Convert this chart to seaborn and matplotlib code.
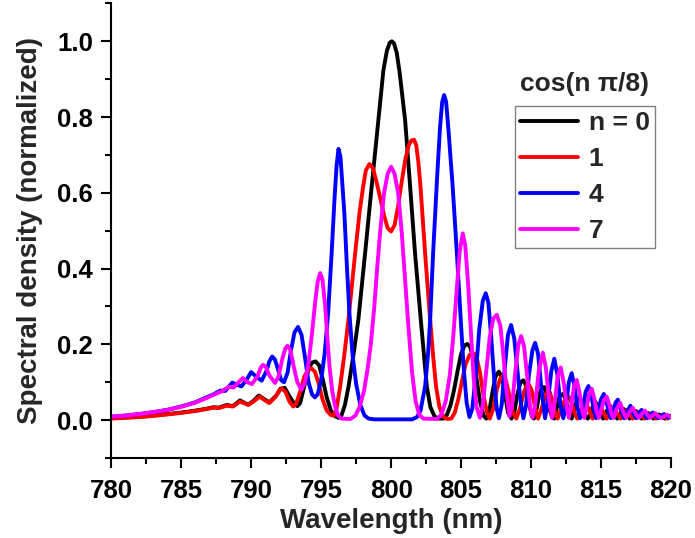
import matplotlib
matplotlib.use("Agg")
import matplotlib.pyplot as plt
from matplotlib.ticker import MultipleLocator, FormatStrFormatter
import seaborn as sns
import pandas as pd

# ---- data: (wavelength nm, normalized density) ----
labels = ["n = 0", "1", "4", "7"]
colors = ["#000000", "#ff0000", "#0000ff", "#ff00ff"]

black_points = [
    (780.0, 0.005), (781.0, 0.007), (782.0, 0.009), (783.0, 0.012), (784.0, 0.016),
    (785.0, 0.020), (786.0, 0.025), (786.8, 0.030), (787.3, 0.034), (787.7, 0.033),
    (788.25, 0.040), (788.7, 0.037), (789.2, 0.052), (789.55, 0.045), (789.8, 0.041),
    (790.2, 0.052), (790.55, 0.065), (790.95, 0.055), (791.3, 0.047), (791.8, 0.065),
    (792.1, 0.083), (792.4, 0.085), (792.75, 0.062), (793.1, 0.042), (793.3, 0.037),
    (793.5, 0.045), (793.8, 0.090), (794.1, 0.135), (794.35, 0.152), (794.6, 0.155),
    (794.85, 0.145), (795.1, 0.110), (795.4, 0.060), (795.7, 0.025), (796.0, 0.010),
    (796.25, 0.006), (796.45, 0.012), (796.7, 0.040), (796.96, 0.089), (797.3, 0.170),
    (797.66, 0.265), (798.14, 0.440), (798.61, 0.616), (799.09, 0.792), (799.45, 0.924),
    (799.7, 0.975), (799.9, 0.996), (800.05, 1.000), (800.2, 0.995), (800.4, 0.970),
    (800.6, 0.920), (801.0, 0.792), (801.36, 0.616), (801.71, 0.440), (802.12, 0.265),
    (802.55, 0.089), (802.8, 0.035), (803.1, 0.010), (803.4, 0.004), (803.75, 0.004),
    (804.0, 0.015), (804.25, 0.040), (804.5, 0.080), (804.75, 0.130), (805.0, 0.175),
    (805.25, 0.197), (805.45, 0.201), (805.65, 0.193), (805.85, 0.165), (806.1, 0.110),
    (806.35, 0.050), (806.6, 0.012), (806.8, 0.004), (807.0, 0.020), (807.2, 0.065),
    (807.45, 0.115), (807.7, 0.128), (807.95, 0.110), (808.15, 0.065), (808.35, 0.020),
    (808.6, 0.004), (808.8, 0.020), (809.0, 0.065), (809.25, 0.100), (809.45, 0.105),
    (809.65, 0.090), (809.85, 0.045), (810.05, 0.010), (810.2, 0.004), (810.4, 0.030),
    (810.6, 0.070), (810.8, 0.086), (810.95, 0.087), (811.15, 0.065), (811.35, 0.025),
    (811.5, 0.008), (811.65, 0.004), (811.85, 0.035), (812.05, 0.065), (812.3, 0.069),
    (812.5, 0.050), (812.7, 0.015), (812.9, 0.004), (813.1, 0.030), (813.3, 0.055),
    (813.5, 0.059), (813.7, 0.040), (813.9, 0.012), (814.05, 0.004), (814.2, 0.012),
    (814.4, 0.035), (814.6, 0.048), (814.8, 0.035), (815.0, 0.012), (815.15, 0.004),
    (815.4, 0.024), (815.65, 0.038), (815.9, 0.022), (816.15, 0.004), (816.4, 0.019),
    (816.6, 0.030), (816.85, 0.017), (817.05, 0.004), (817.3, 0.016), (817.5, 0.024),
    (817.7, 0.014), (817.9, 0.004), (818.15, 0.014), (818.35, 0.019), (818.55, 0.012),
    (818.75, 0.004), (818.95, 0.011), (819.15, 0.015), (819.35, 0.010), (819.55, 0.004),
    (819.8, 0.010), (820.0, 0.012),
]

red_points = [
    (780.0, 0.004), (781.0, 0.006), (782.0, 0.008), (783.0, 0.011), (784.0, 0.015),
    (785.0, 0.019), (786.0, 0.024), (786.8, 0.029), (787.3, 0.033), (787.7, 0.032),
    (788.25, 0.038), (788.7, 0.036), (789.2, 0.049), (789.8, 0.040), (790.2, 0.050),
    (790.6, 0.062), (790.95, 0.053), (791.3, 0.045), (791.75, 0.062), (792.0, 0.078),
    (792.2, 0.083), (792.45, 0.075), (792.75, 0.048), (793.0, 0.036), (793.2, 0.042),
    (793.5, 0.075), (793.8, 0.115), (794.05, 0.132), (794.3, 0.137), (794.55, 0.128),
    (794.8, 0.100), (795.1, 0.055), (795.4, 0.025), (795.7, 0.013), (795.9, 0.012),
    (796.1, 0.030), (796.36, 0.089), (796.65, 0.170), (796.95, 0.265), (797.43, 0.440),
    (797.75, 0.550), (798.0, 0.616), (798.2, 0.660), (798.45, 0.676), (798.7, 0.665),
    (798.95, 0.630), (799.2, 0.590), (799.5, 0.540), (799.75, 0.507), (800.0, 0.498),
    (800.25, 0.515), (800.5, 0.565), (800.76, 0.630), (801.0, 0.685), (801.25, 0.725),
    (801.45, 0.738), (801.64, 0.740), (801.8, 0.725), (801.95, 0.680), (802.1, 0.616),
    (802.43, 0.440), (802.79, 0.265), (803.0, 0.170), (803.21, 0.089), (803.45, 0.035),
    (803.7, 0.010), (804.0, 0.003), (804.3, 0.004), (804.55, 0.020), (804.8, 0.055),
    (805.05, 0.100), (805.3, 0.145), (805.6, 0.172), (805.88, 0.177), (806.1, 0.168),
    (806.35, 0.125), (806.6, 0.065), (806.85, 0.020), (807.05, 0.004), (807.3, 0.030),
    (807.55, 0.080), (807.8, 0.110), (808.0, 0.117), (808.2, 0.105), (808.45, 0.065),
    (808.7, 0.020), (808.95, 0.004), (809.2, 0.030), (809.5, 0.075), (809.7, 0.092),
    (809.85, 0.094), (810.05, 0.078), (810.3, 0.030), (810.5, 0.004), (810.75, 0.030),
    (811.0, 0.062), (811.2, 0.076), (811.35, 0.073), (811.55, 0.045), (811.75, 0.015),
    (811.9, 0.004), (812.2, 0.035), (812.5, 0.060), (812.7, 0.062), (812.95, 0.040),
    (813.15, 0.015), (813.3, 0.004), (813.6, 0.030), (813.85, 0.051), (814.15, 0.028),
    (814.4, 0.004), (814.65, 0.025), (814.9, 0.042), (815.15, 0.022), (815.4, 0.004),
    (815.65, 0.020), (815.9, 0.034), (816.15, 0.018), (816.4, 0.004), (816.65, 0.018),
    (816.85, 0.027), (817.05, 0.016), (817.25, 0.004), (817.5, 0.014), (817.7, 0.021),
    (817.9, 0.012), (818.1, 0.004), (818.35, 0.011), (818.55, 0.017), (818.75, 0.010),
    (818.95, 0.004), (819.15, 0.009), (819.35, 0.013), (819.55, 0.008), (819.75, 0.004),
    (820.0, 0.009),
]

blue_points = [
    (780.0, 0.009), (781.0, 0.012), (782.0, 0.016), (783.0, 0.021), (784.0, 0.027),
    (785.0, 0.036), (786.0, 0.047), (786.8, 0.060), (787.3, 0.068), (787.8, 0.078),
    (788.15, 0.077), (788.4, 0.088), (788.65, 0.099), (788.95, 0.094), (789.3, 0.089),
    (789.65, 0.105), (790.0, 0.127), (790.35, 0.115), (790.75, 0.104), (791.1, 0.130),
    (791.3, 0.155), (791.5, 0.168), (791.7, 0.160), (791.95, 0.130), (792.15, 0.105),
    (792.35, 0.100), (792.6, 0.125), (792.85, 0.185), (793.1, 0.232), (793.35, 0.246),
    (793.6, 0.225), (793.85, 0.165), (794.1, 0.100), (794.35, 0.068), (794.55, 0.060),
    (794.75, 0.068), (795.0, 0.105), (795.25, 0.175), (795.5, 0.282), (795.75, 0.440),
    (795.95, 0.580), (796.1, 0.670), (796.24, 0.716), (796.38, 0.695), (796.5, 0.630),
    (796.66, 0.546), (796.85, 0.400), (797.02, 0.282), (797.25, 0.170), (797.5, 0.096),
    (797.8, 0.040), (798.1, 0.012), (798.4, 0.004), (798.8, 0.002), (801.5, 0.002),
    (801.85, 0.008), (802.1, 0.025), (802.43, 0.089), (802.65, 0.180), (802.79, 0.265),
    (803.0, 0.440), (803.3, 0.650), (803.5, 0.775), (803.65, 0.840), (803.79, 0.858),
    (803.93, 0.840), (804.1, 0.765), (804.4, 0.616), (804.7, 0.440), (805.0, 0.250),
    (805.2, 0.130), (805.4, 0.045), (805.6, 0.008), (805.8, 0.030), (806.05, 0.120),
    (806.3, 0.240), (806.55, 0.315), (806.76, 0.335), (806.95, 0.310), (807.15, 0.220),
    (807.4, 0.090), (807.55, 0.030), (807.7, 0.005), (807.9, 0.040), (808.1, 0.130),
    (808.35, 0.225), (808.57, 0.251), (808.8, 0.215), (809.0, 0.140), (809.25, 0.050),
    (809.45, 0.005), (809.65, 0.040), (809.85, 0.120), (810.1, 0.185), (810.29, 0.204),
    (810.5, 0.175), (810.75, 0.080), (811.0, 0.005), (811.2, 0.050), (811.45, 0.130),
    (811.66, 0.162), (811.88, 0.120), (812.1, 0.040), (812.3, 0.005), (812.5, 0.040),
    (812.7, 0.100), (812.9, 0.124), (813.1, 0.090), (813.3, 0.035), (813.5, 0.005),
    (813.7, 0.030), (813.9, 0.075), (814.1, 0.090), (814.3, 0.065), (814.5, 0.025),
    (814.65, 0.005), (814.85, 0.030), (815.0, 0.055), (815.2, 0.069), (815.4, 0.048),
    (815.55, 0.020), (815.7, 0.005), (815.9, 0.028), (816.05, 0.047), (816.2, 0.054),
    (816.4, 0.030), (816.65, 0.005), (816.9, 0.025), (817.1, 0.038), (817.3, 0.018),
    (817.5, 0.005), (817.7, 0.018), (817.9, 0.027), (818.1, 0.014), (818.3, 0.005),
    (818.5, 0.014), (818.7, 0.020), (818.9, 0.011), (819.1, 0.005), (819.3, 0.011),
    (819.5, 0.016), (819.75, 0.007), (820.0, 0.008),
]

pink_points = [
    (780.0, 0.009), (781.0, 0.012), (782.0, 0.016), (783.0, 0.021), (784.0, 0.027),
    (785.0, 0.035), (786.0, 0.046), (786.8, 0.058), (787.4, 0.068), (787.9, 0.076),
    (788.4, 0.088), (788.75, 0.086), (789.1, 0.100), (789.4, 0.111), (789.75, 0.100),
    (790.05, 0.095), (790.45, 0.115), (790.7, 0.140), (790.85, 0.146), (791.05, 0.140),
    (791.3, 0.118), (791.7, 0.098), (791.95, 0.115), (792.25, 0.165), (792.45, 0.190),
    (792.6, 0.196), (792.8, 0.185), (793.05, 0.140), (793.3, 0.100), (793.6, 0.080),
    (793.85, 0.100), (794.1, 0.150), (794.35, 0.230), (794.57, 0.310), (794.75, 0.365),
    (794.93, 0.388), (795.1, 0.370), (795.29, 0.300), (795.45, 0.215), (795.6, 0.141),
    (795.8, 0.075), (796.0, 0.036), (796.2, 0.013), (796.45, 0.004), (797.1, 0.003),
    (797.45, 0.012), (797.75, 0.035), (798.05, 0.075), (798.3, 0.130), (798.55, 0.200),
    (798.8, 0.300), (799.0, 0.400), (799.25, 0.510), (799.5, 0.600), (799.75, 0.650),
    (800.0, 0.669), (800.25, 0.650), (800.5, 0.600), (800.75, 0.500), (801.0, 0.370),
    (801.25, 0.240), (801.5, 0.125), (801.75, 0.050), (802.0, 0.015), (802.3, 0.004),
    (803.3, 0.003), (803.6, 0.015), (803.9, 0.050), (804.2, 0.120), (804.45, 0.225),
    (804.7, 0.350), (804.9, 0.445), (805.12, 0.493), (805.3, 0.460), (805.5, 0.360),
    (805.7, 0.235), (805.9, 0.110), (806.1, 0.035), (806.35, 0.006), (806.55, 0.040),
    (806.8, 0.130), (807.05, 0.220), (807.3, 0.268), (807.55, 0.278), (807.8, 0.250),
    (808.0, 0.180), (808.25, 0.075), (808.45, 0.010), (808.65, 0.040), (808.85, 0.120),
    (809.1, 0.200), (809.29, 0.222), (809.5, 0.195), (809.75, 0.105), (809.95, 0.030),
    (810.1, 0.006), (810.3, 0.040), (810.55, 0.130), (810.84, 0.178), (811.05, 0.140),
    (811.3, 0.050), (811.5, 0.006), (811.7, 0.050), (811.9, 0.115), (812.12, 0.139),
    (812.35, 0.095), (812.55, 0.035), (812.7, 0.006), (812.9, 0.045), (813.07, 0.090),
    (813.26, 0.106), (813.45, 0.075), (813.65, 0.025), (813.8, 0.006), (814.0, 0.040),
    (814.15, 0.070), (814.33, 0.083), (814.5, 0.060), (814.7, 0.020), (814.85, 0.006),
    (815.05, 0.032), (815.2, 0.052), (815.4, 0.062), (815.6, 0.040), (815.75, 0.015),
    (815.9, 0.006), (816.1, 0.028), (816.36, 0.046), (816.6, 0.020), (816.8, 0.006),
    (817.0, 0.020), (817.26, 0.033), (817.5, 0.015), (817.7, 0.006), (817.9, 0.016),
    (818.14, 0.025), (818.35, 0.012), (818.5, 0.006), (818.7, 0.013), (818.9, 0.018),
    (819.1, 0.009), (819.3, 0.006), (819.5, 0.010), (819.7, 0.014), (820.0, 0.008),
]

series_points = [black_points, red_points, blue_points, pink_points]

frames = []
for lab, pts in zip(labels, series_points):
    frames.append(pd.DataFrame({"wavelength": [p[0] for p in pts],
                                "density": [p[1] for p in pts],
                                "series": lab}))
df = pd.concat(frames, ignore_index=True)

# ---- style ----
sns.set_style("ticks")
plt.rcParams["font.family"] = ["Liberation Sans", "DejaVu Sans"]
plt.rcParams["font.weight"] = "bold"
plt.rcParams["axes.labelweight"] = "bold"

fig = plt.figure(figsize=(6.95, 5.38), dpi=100)
ax = fig.add_axes([0.160, 0.1487, 0.8055, 0.845])

sns.lineplot(data=df, x="wavelength", y="density", hue="series",
             hue_order=labels, palette=colors, estimator=None, sort=False,
             linewidth=2.8, ax=ax, legend=True)

ax.set_xlim(780, 820)
ax.set_ylim(-0.1, 1.1)
ax.xaxis.set_major_locator(MultipleLocator(5))
ax.xaxis.set_minor_locator(MultipleLocator(2.5))
ax.set_yticks([0.0, 0.2, 0.4, 0.6, 0.8, 1.0])
ax.yaxis.set_minor_locator(MultipleLocator(0.1))
ax.yaxis.set_major_formatter(FormatStrFormatter("%.1f"))

for s in ["top", "right"]:
    ax.spines[s].set_visible(False)
for s in ["left", "bottom"]:
    ax.spines[s].set_linewidth(1.5)
    ax.spines[s].set_color("black")

ax.tick_params(axis="both", which="major", length=7, width=1.5, labelsize=18.5,
               direction="out", colors="black")
ax.tick_params(axis="both", which="minor", length=4.5, width=1.5, direction="out",
               colors="black")
ax.tick_params(axis="x", which="major", pad=8)
ax.tick_params(axis="y", which="major", pad=6)
for t in ax.get_xticklabels() + ax.get_yticklabels():
    t.set_fontweight("bold")

ax.set_xlabel("Wavelength (nm)", fontsize=20, fontweight="bold", labelpad=4)
ax.set_ylabel("Spectral density (normalized)", fontsize=20, fontweight="bold",
              labelpad=10)

leg = ax.legend(loc="upper left", bbox_to_anchor=(0.721, 0.774), borderaxespad=0,
                frameon=True, fancybox=False, edgecolor="#808080", framealpha=1,
                prop={"size": 19, "weight": "bold"}, handlelength=2.2,
                handletextpad=0.4, labelspacing=0.45, borderpad=0.2, title=None)
leg.get_frame().set_linewidth(1.0)
for line in leg.get_lines():
    line.set_linewidth(2.8)

ax.text(0.846, 0.823, "cos(n \u03c0/8)", transform=ax.transAxes, ha="center",
        va="center", fontsize=19, fontweight="bold")

fig.savefig("out.png", dpi=100)
